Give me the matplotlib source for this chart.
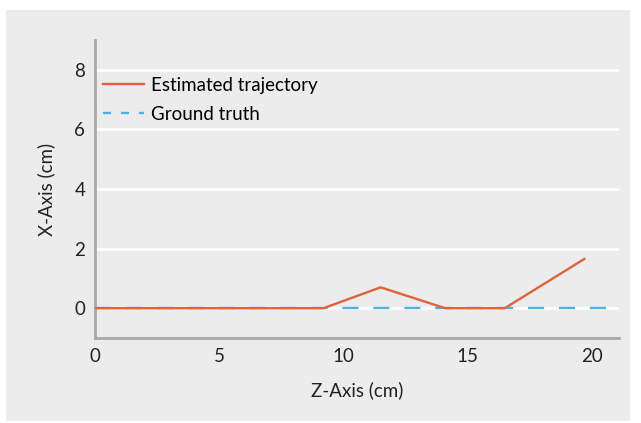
import matplotlib.pyplot as plt
from matplotlib.patches import Rectangle
from matplotlib.lines import Line2D

# data
est_z = [0, 9.2, 11.5, 14.1, 16.5, 19.7]
est_x = [0, 0, 0.7, 0, 0, 1.65]
gt_z = [0, 21.1]
gt_x = [0, 0]
xticks = [0, 5, 10, 15, 20]
yticks = [0, 2, 4, 6, 8]

bg = '#ebeceb'
orange = '#e0633a'
blue = '#4db3e6'
plt.rcParams['font.family'] = ['Lato', 'DejaVu Sans']

fig = plt.figure(figsize=(6.41, 4.23), dpi=100, facecolor='white')
fig.patches.append(Rectangle((6 / 641, 2 / 423), 624 / 641, 411 / 423,
                             transform=fig.transFigure, facecolor=bg,
                             edgecolor='none', zorder=-10))
ax = fig.add_axes([95 / 641, 1 - 338 / 423, 524 / 641, 298 / 423])
ax.set_facecolor(bg)

ax.plot(gt_z, gt_x, color=blue, lw=1.7, dashes=(6.8, 6.3), zorder=3)
ax.plot(est_z, est_x, color=orange, lw=1.7, zorder=4)

ax.set_xlim(0, 21.1)
ax.set_ylim(-1, 9)
ax.set_xticks(xticks)
ax.set_yticks(yticks)
ax.yaxis.grid(True, color='white', lw=2)
ax.set_axisbelow(True)
ax.tick_params(length=0, labelsize=13.5, colors='#222222', pad=7)
for s in ['top', 'right']:
    ax.spines[s].set_visible(False)
for s in ['left', 'bottom']:
    ax.spines[s].set_color('#a9a9a9')
    ax.spines[s].set_linewidth(2)

ax.set_xlabel('Z-Axis (cm)', fontsize=13.5, color='#222222', labelpad=12)
ax.set_ylabel('X-Axis (cm)', fontsize=13.5, color='#222222', labelpad=14)

handles = [Line2D([], [], color=orange, lw=1.7),
           Line2D([], [], color=blue, lw=1.7, dashes=(3.4, 4.2))]
ax.legend(handles, ['Estimated trajectory', 'Ground truth'], loc='upper left',
          frameon=False, fontsize=13.5, bbox_to_anchor=(8 / 524, 0.877),
          borderaxespad=0, borderpad=0, handlelength=2.2, labelspacing=0.65,
          handletextpad=0.37)

fig.savefig('out.png', dpi=100, facecolor='white')
